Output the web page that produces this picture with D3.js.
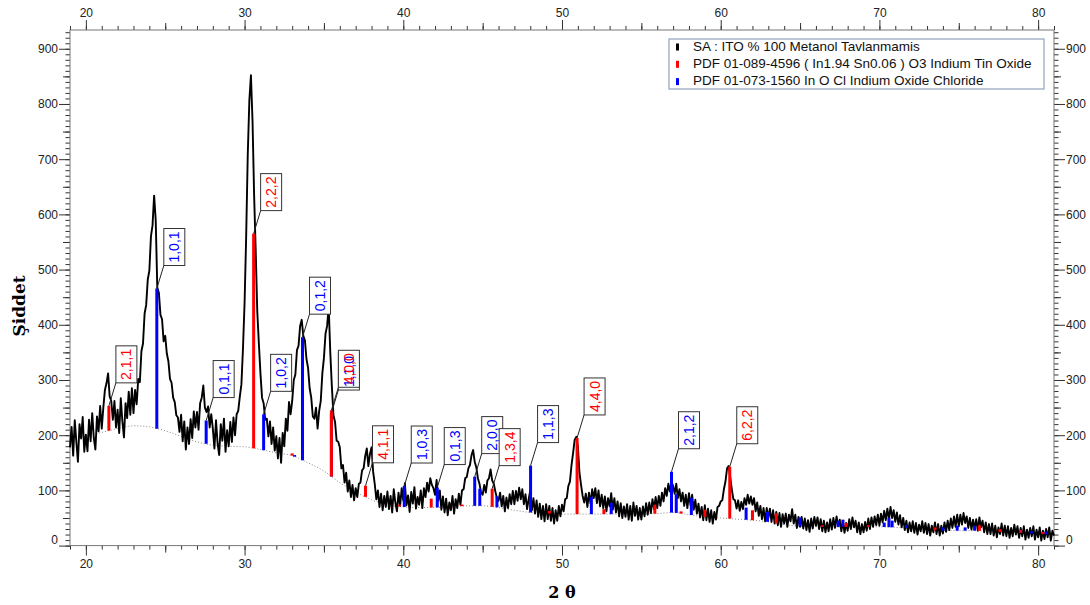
<!DOCTYPE html>
<html lang="tr">
<head>
<meta charset="UTF-8">
<title>XRD - ITO % 100 Metanol</title>
<script src="https://d3js.org/d3.v7.min.js"></script>
<style>
  body { margin: 0; background: #fff; }
  svg { display: block; font-family: "Liberation Sans", Arial, sans-serif; }
</style>
</head>
<body>
<svg id="grafik"></svg>
<script>
// olculen desen: 2theta 19.0'dan 0.1 adimla siddet
const twoThetaStart = 19.0;
const twoThetaStep = 0.1;
const intensity = [
  178,215,163,227,188,152,220,194,233,170,
  201,171,228,189,240,195,174,234,207,253,
  212,250,282,294,312,270,262,228,262,214,
  246,204,267,225,196,258,231,279,237,285,
  240,282,256,302,296,352,366,420,436,482,
  498,560,580,634,590,467,458,418,410,370,
  380,348,334,302,295,268,260,236,232,206,
  237,189,225,174,214,184,229,195,243,214,
  242,210,258,268,290,250,242,252,214,238,
  212,176,227,185,164,220,190,230,170,209,
  180,224,188,232,200,238,244,270,292,358,
  440,560,708,806,852,770,636,535,424,366,
  312,268,258,228,230,198,225,184,214,172,
  198,158,195,150,204,180,230,208,260,238,
  262,300,310,354,362,398,409,380,372,338,
  322,285,268,234,230,250,212,244,262,312,
  340,384,398,433,350,288,236,224,190,188,
  178,140,146,114,132,98,118,88,110,82,
  104,88,112,114,136,140,162,176,144,166,
  178,134,112,84,100,70,94,64,90,70,
  98,66,90,60,102,78,62,96,72,104,
  82,113,73,91,61,97,76,106,67,88,
  74,100,68,104,88,114,98,122,110,104,
  92,119,81,100,65,89,60,85,55,78,
  64,90,58,84,68,94,74,100,102,122,
  124,140,146,164,173,152,142,122,112,96,
  92,110,96,118,122,138,118,112,98,86,
  81,96,71,90,62,87,68,93,75,99,
  75,99,81,105,84,102,75,93,66,84,
  100,64,86,58,82,52,76,48,72,44,
  75,48,72,45,68,40,64,45,72,53,
  74,62,84,86,108,116,146,168,192,197,
  180,132,110,90,78,94,70,96,76,102,
  86,104,77,100,71,92,68,89,62,86,
  71,95,65,86,60,80,53,77,50,71,
  52,75,47,72,45,78,54,72,47,68,
  47,71,53,77,56,78,59,84,66,88,
  68,90,72,96,80,104,90,112,98,116,
  108,94,112,86,102,80,96,72,92,68,
  95,73,92,65,83,58,76,51,70,46,
  73,46,67,43,64,40,61,47,70,72,
  80,82,102,116,140,144,124,102,84,82,
  67,82,63,79,66,86,74,92,76,89,
  74,86,62,78,54,72,48,68,44,68,
  50,67,43,64,40,61,37,59,34,57,
  40,58,34,56,44,66,40,56,32,52,
  34,52,31,49,28,46,25,49,31,52,
  36,51,30,48,26,45,24,42,26,48,
  29,50,32,53,35,47,26,44,23,41,
  27,48,30,51,33,45,24,42,21,39,
  24,43,27,49,30,51,34,53,37,56,
  36,58,42,63,46,67,48,70,50,64,
  43,60,38,55,33,50,28,45,24,42,
  26,44,23,41,20,38,26,44,23,41,
  21,39,18,36,24,42,21,39,18,36,
  22,42,25,45,28,49,32,53,34,56,
  35,56,38,59,41,53,32,50,29,47,
  30,48,27,51,33,45,24,42,21,39,
  21,40,18,36,15,33,21,40,18,36,
  17,35,14,32,17,38,20,35,14,32,
  17,35,11,29,14,32,17,35,11,29,
  15,33,9,27,12,30,15,33,9,27,
  18
];

// arka plan egrisi, 19..81 derece, 1 derece adim
const bgStart = 19;
const bgStep = 1;
const background = [
  191,198,205,212,217,215,208,198,188,182,
  180,179,174,168,163,150,135,114,97,83,
  74,70,69,69,70,72,72,69,64,60,
  58,57,57,57,57,57,57,58,60,56,
  52,50,48,46,43,38,35,34,34,34,
  34,34,33,31,29,27,27,27,26,24,
  23,21,20
];

// PDF 01-089-4596 (ITO) cizgileri - kirmizi
const ito2T = [21.45,30.57,33.0,35.47,37.62,39.75,41.76,43.7,45.6,49.2,50.95,52.64,55.85,57.5,59.0,60.57,62.0,63.5,66.4,67.9,69.3,73.5,76.3,77.6,78.9,80.3];
const itoI  = [45,389,4,120,20,3,16,3,33,5,138,9,16,4,13,94,18,18,3,7,3,5,10,5,5,4];

// PDF 01-073-1560 (InOCl) cizgileri - mavi
const inocl2T = [24.47,27.58,31.2,33.15,33.65,35.47,40.06,42.14,44.5,44.82,45.9,48.02,51.85,53.1,56.9,57.2,58.15,61.6,62.95,65.0,67.4,67.7,70.3,70.6,70.8,71.7,74.0,74.9,75.4,76.0,78.9,79.6,80.5];
const inoclI  = [254,42,65,3,223,115,38,36,53,31,20,85,31,20,74,34,31,22,18,16,11,13,8,17,12,6,6,9,6,9,5,4,5];

// etiketler (hkl)
const itoLabel2T = [21.45,30.57,35.47,37.62,45.6,50.95,60.57];
const itoLabelText = ["2,1,1","2,2,2","4,0,0","4,1,1","1,3,4","4,4,0","6,2,2"];
const inoclLabel2T = [24.47,27.58,31.2,33.65,35.47,40.06,42.14,44.5,48.02,56.9];
const inoclLabelText = ["1,0,1","0,1,1","1,0,2","0,1,2","1,1,0","1,0,3","0,1,3","2,0,0","1,1,3","2,1,2"];

const legendText = [
  "SA : ITO % 100 Metanol Tavlanmamis",
  "PDF 01-089-4596 ( In1.94 Sn0.06 ) O3 Indium Tin Oxide",
  "PDF 01-073-1560 In O Cl Indium Oxide Chloride"
];
const legendColor = ["#000000", "#ff0000", "#0000ff"];

const xTicks = [20, 30, 40, 50, 60, 70, 80];
const yTicks = [0, 100, 200, 300, 400, 500, 600, 700, 800, 900];

// boyutlar
const largura = 1090, altura = 605;
const margem = { topo: 30, direita: 36, inferior: 59.4, esquerda: 70 };
const w = largura - margem.esquerda - margem.direita;
const h = altura - margem.topo - margem.inferior;

const svg = d3.select("#grafik").attr("width", largura).attr("height", altura);
svg.append("rect").attr("width", largura).attr("height", altura).attr("fill", "#fff");

const g = svg.append("g").attr("transform", `translate(${margem.esquerda},${margem.topo})`);

const x = d3.scaleLinear().domain([19, 81]).range([0, w]);
const y = d3.scaleLinear().domain([0, 934]).range([h, 0]);

const pattern = intensity.map((v, i) => [twoThetaStart + i * twoThetaStep, v]);
const bgPts = background.map((v, i) => [bgStart + i * bgStep, v]);
const bgAt = d3.scaleLinear().domain(bgPts.map(d => d[0])).range(bgPts.map(d => d[1]));

// eksenler: kucuk, orta, buyuk tikler
const tickCol = "#333";
function ticks(axisFn, vals, size, withLabels, transform) {
  const ax = axisFn.tickValues(vals).tickSize(size).tickSizeOuter(0);
  if (!withLabels) ax.tickFormat("");
  const a = g.append("g").attr("transform", transform || null).call(ax);
  a.select(".domain").remove();
  a.selectAll("line").attr("stroke", tickCol);
  a.selectAll("text").attr("fill", "#222").style("font-size", "12px");
  return a;
}
const xMinor = d3.range(19, 82, 1), xMid = d3.range(25, 81, 10);
const yMinor = d3.range(0, 935, 10), yMid = d3.range(50, 935, 100);

ticks(d3.axisBottom(x), xMinor, 4, false, `translate(0,${h})`);
ticks(d3.axisBottom(x), xMid, 7, false, `translate(0,${h})`);
ticks(d3.axisBottom(x).tickPadding(3.5), xTicks, 10, true, `translate(0,${h})`);
ticks(d3.axisTop(x), xMinor, 4, false);
ticks(d3.axisTop(x), xMid, 7, false);
ticks(d3.axisTop(x).tickPadding(3), xTicks, 10, true);

ticks(d3.axisLeft(y), yMinor, 4.5, false);
ticks(d3.axisLeft(y), yMid, 7, false);
const yl = ticks(d3.axisLeft(y).tickPadding(1), yTicks, 11, true);
ticks(d3.axisRight(y), yMinor, 4.5, false, `translate(${w},0)`);
ticks(d3.axisRight(y), yMid, 7, false, `translate(${w},0)`);
const yr = ticks(d3.axisRight(y).tickPadding(1), yTicks, 11, true, `translate(${w},0)`);
// sifir etiketi biraz yukarida
yl.selectAll(".tick").filter(d => d === 0).select("text").attr("y", -6);
yr.selectAll(".tick").filter(d => d === 0).select("text").attr("y", -6);

// cerceve
g.append("rect").attr("width", w).attr("height", h)
  .attr("fill", "none").attr("stroke", "#777").attr("stroke-width", 1);

// arka plan (noktali)
g.append("path").datum(bgPts)
  .attr("fill", "none").attr("stroke", "#888").attr("stroke-width", 1)
  .attr("stroke-dasharray", "1,2")
  .attr("d", d3.line().x(d => x(d[0])).y(d => y(d[1])).curve(d3.curveMonotoneX));

// desen
g.append("path").datum(pattern)
  .attr("fill", "none").attr("stroke", "#000").attr("stroke-width", 1.9)
  .attr("stroke-linejoin", "round")
  .attr("d", d3.line().x(d => x(d[0])).y(d => y(d[1])));

// referans cizgileri
function sticks(pos, vals, color) {
  g.append("g").selectAll("line")
    .data(pos.map((p, i) => [p, vals[i]]))
    .enter().append("line")
    .attr("x1", d => x(d[0])).attr("x2", d => x(d[0]))
    .attr("y1", d => y(bgAt(d[0])))
    .attr("y2", d => y(bgAt(d[0]) + d[1]))
    .attr("stroke", color).attr("stroke-width", 3);
}
sticks(inocl2T, inoclI, "#0000ff");
sticks(ito2T, itoI, "#ff0000");

// etiket kutulari
function labelData(pos, texts, peaks2T, peaksI, color) {
  return pos.map((p, i) => {
    const k = peaks2T.indexOf(p);
    return { x: x(p), y: y(bgAt(p) + peaksI[k]), text: texts[i], color: color };
  });
}
const labels = labelData(inoclLabel2T, inoclLabelText, inocl2T, inoclI, "#0000ff")
  .concat(labelData(itoLabel2T, itoLabelText, ito2T, itoI, "#ff0000"));

const boxW = 21, boxH = 37, offX = 7, offY = 23;
const lg = g.append("g");
lg.selectAll(".leader").data(labels).enter().append("line")
  .attr("x1", d => d.x).attr("y1", d => d.y)
  .attr("x2", d => d.x + offX).attr("y2", d => d.y - offY)
  .attr("stroke", "#222").attr("stroke-width", 1);
lg.selectAll(".box").data(labels).enter().append("rect")
  .attr("x", d => d.x + offX).attr("y", d => d.y - offY - boxH)
  .attr("width", boxW).attr("height", boxH)
  .attr("fill", "#fff").attr("stroke", "#333").attr("stroke-width", 1);
lg.selectAll(".lbl").data(labels).enter().append("text")
  .attr("transform", d => `translate(${d.x + offX + boxW / 2},${d.y - offY - boxH / 2}) rotate(-90)`)
  .attr("text-anchor", "middle").attr("dominant-baseline", "central")
  .attr("fill", d => d.color).style("font-size", "14px")
  .text(d => d.text);

// eksen basliklari
svg.append("text").attr("x", 562).attr("y", 598)
  .attr("text-anchor", "middle")
  .style("font-family", "'DejaVu Serif', serif")
  .style("font-weight", "bold").style("font-size", "16px")
  .text("2 θ");
svg.append("text").attr("transform", "translate(25,306) rotate(-90)")
  .attr("text-anchor", "middle")
  .style("font-family", "'DejaVu Serif', serif")
  .style("font-weight", "bold").style("font-size", "17px")
  .text("Şiddet");

// lejant
const leg = svg.append("g");
leg.append("rect").attr("x", 669).attr("y", 39).attr("width", 375).attr("height", 50)
  .attr("fill", "#fff").attr("stroke", "#8fa2bd").attr("stroke-width", 1.2);
legendText.forEach((t, i) => {
  const base = 50.5 + i * 17.3;
  leg.append("rect").attr("x", 676).attr("y", base - 7).attr("width", 3).attr("height", 7)
    .attr("fill", legendColor[i]);
  leg.append("text").attr("x", 693).attr("y", base)
    .style("font-size", "13.5px").attr("fill", "#111").text(t);
});
</script>
</body>
</html>
